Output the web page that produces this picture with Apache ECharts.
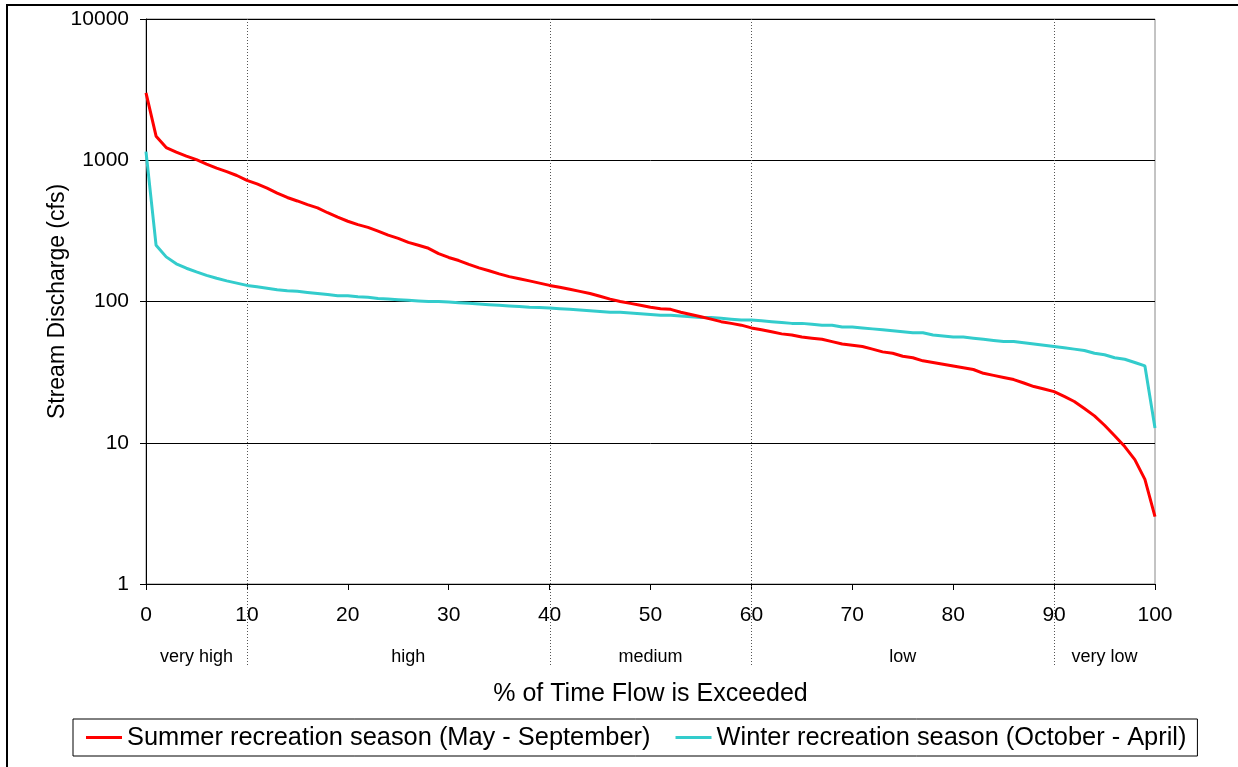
<!DOCTYPE html>
<html>
<head>
<meta charset="utf-8">
<script src="https://cdn.jsdelivr.net/npm/echarts@6/dist/echarts.min.js"></script>
<style>
html,body{margin:0;padding:0;background:#fff;}
#chart{width:1238px;height:767px;}
</style>
</head>
<body>
<div id="chart"></div>
<script>
// ---- data ----
var percentExceeded = [];
for (var i = 0; i <= 100; i++) percentExceeded.push(i);

var summerFlow = [3000,1480,1230,1140,1070,1010,940,880,830,780,
  720,680,635,585,545,515,485,460,425,395,
  370,350,335,315,295,280,262,250,238,218,
  205,195,183,173,165,157,150,145,140,135,
  130,126,122,118,114,109,104,100,97,94,
  91,89,88,84,81,78,75,72,70,68,
  65,63,61,59,58,56,55,54,52,50,
  49,48,46,44,43,41,40,38,37,36,
  35,34,33,31,30,29,28,26.5,25,24,
  23,21.3,19.6,17.5,15.5,13.3,11.2,9.4,7.6,5.5,
  3.0];

var winterFlow = [1150,250,207,185,172,162,153,146,140,135,
  130,127,124,121,119,118,116,114,112,110,
  110,108,107,105,104,103,102,101,100,100,
  99,98,97,96,95,94,93,92,91,90.5,
  90,89,88,87,86,85,84,84,83,82,
  81,80,80,79,78,77,77,76,75,74,
  74,73,72,71,70,70,69,68,68,66,
  66,65,64,63,62,61,60,60,58,57,
  56,56,55,54,53,52,52,51,50,49,
  48,47,46,45,43,42,40,39,37,35,
  12.7];

var seriesNames = ['Summer recreation season (May - September)', 'Winter recreation season (October - April)'];
var zoneBoundaries = [10, 40, 60, 90];
var zoneLabels = ['very high', 'high', 'medium', 'low', 'very low'];
var zoneLabelPositions = [5, 26, 50, 75, 95];
var xTicks = [0,10,20,30,40,50,60,70,80,90,100];
var yTicks = [1,10,100,1000,10000];

function pairs(xs, ys){ return xs.map(function(x,i){ return [x, ys[i]]; }); }

var FONT = '"Liberation Sans", Arial, sans-serif';
var chart = echarts.init(document.getElementById('chart'));

var option = {
  animation: false,
  backgroundColor: '#fff',
  textStyle: { fontFamily: FONT, color: '#000' },
  grid: { left: 146, right: 83, top: 19, bottom: 183, show: true, borderColor: '#888', borderWidth: 1 },
  xAxis: {
    type: 'value', min: xTicks[0], max: xTicks[xTicks.length-1], interval: 10,
    name: '% of Time Flow is Exceeded', nameLocation: 'middle', nameGap: 98, nameMoveOverlap: false,
    nameTextStyle: { fontSize: 25, fontFamily: FONT, color: '#000' },
    axisLine: { show: true, lineStyle: { color: '#000', width: 1 } },
    axisTick: { show: true, inside: false, length: 6, lineStyle: { color: '#000' } },
    axisLabel: { fontSize: 21, color: '#000', margin: 21, fontFamily: FONT },
    splitLine: { show: false }
  },
  yAxis: {
    type: 'log', logBase: 10, min: yTicks[0], max: yTicks[yTicks.length-1],
    name: 'Stream Discharge (cfs)', nameLocation: 'middle', nameGap: 77, nameMoveOverlap: false,
    nameTextStyle: { fontSize: 23, fontFamily: FONT, color: '#000' },
    axisLine: { show: true, lineStyle: { color: '#000', width: 1 } },
    axisTick: { show: true, inside: false, length: 6, lineStyle: { color: '#000' } },
    axisLabel: { fontSize: 21, color: '#000', margin: 17, fontFamily: FONT,
      formatter: function(v){ return String(Math.round(v)); } },
    splitLine: { show: true, lineStyle: { color: '#000', width: 1 } },
    minorTick: { show: false }
  },
  legend: {
    left: 73, top: 719,
    data: [
      { name: seriesNames[0], icon: 'rect' },
      { name: seriesNames[1], icon: 'rect' }
    ],
    itemWidth: 36, itemHeight: 3, itemGap: 25,
    borderColor: '#000', borderWidth: 1, padding: [6, 11, 6, 13],
    textStyle: { fontSize: 25.4, fontFamily: FONT, color: '#000' }
  },
  series: [
    { name: seriesNames[0], type: 'line', data: pairs(percentExceeded, summerFlow),
      showSymbol: false, symbol: 'none', color: '#FF0000', lineStyle: { width: 3, color: '#FF0000' }, z: 4 },
    { name: seriesNames[1], type: 'line', data: pairs(percentExceeded, winterFlow),
      showSymbol: false, symbol: 'none', color: '#33CCCC', lineStyle: { width: 3, color: '#33CCCC' }, z: 3 }
  ]
};
chart.setOption(option);

// zone dividers and labels placed via the library's axis scale
var topY = chart.convertToPixel({ yAxisIndex: 0 }, yTicks[yTicks.length-1]);
var botY = chart.convertToPixel({ yAxisIndex: 0 }, yTicks[0]);
var graphics = [{
  type: 'rect', shape: { x: 7, y: 5, width: 1400, height: 900 },
  style: { fill: null, stroke: '#000', lineWidth: 2 }, silent: true, z: 0
}];
zoneBoundaries.forEach(function(b){
  var px = Math.round(chart.convertToPixel({ xAxisIndex: 0 }, b)) + 0.5;
  graphics.push({ type: 'line', shape: { x1: px, y1: topY, x2: px, y2: botY + 81 },
    style: { stroke: '#555', lineWidth: 1, lineDash: [1, 2] }, silent: true, z: 1 });
});
zoneLabels.forEach(function(t, i){
  var px = chart.convertToPixel({ xAxisIndex: 0 }, zoneLabelPositions[i]);
  graphics.push({ type: 'text', x: px, y: botY + 73,
    style: { text: t, fontSize: 18, fontFamily: FONT, fill: '#000', textAlign: 'center', textVerticalAlign: 'middle' },
    silent: true, z: 5 });
});
chart.setOption({ graphic: graphics });
</script>
</body>
</html>
